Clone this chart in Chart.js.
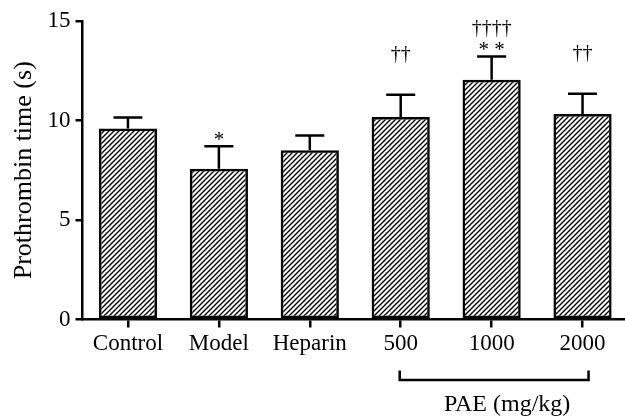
<!DOCTYPE html>
<html>
<head>
<meta charset="utf-8">
<script src="https://cdn.jsdelivr.net/npm/chart.js@4.4.0/dist/chart.umd.min.js"></script>
<style>
  html, body { margin: 0; padding: 0; background: #fff; overflow: hidden; }
  #wrap { width: 632px; height: 418px; position: relative; }
</style>
</head>
<body>
<div id="wrap"><canvas id="c"></canvas></div>
<script>
// ---- data ----
const categories = ['Control', 'Model', 'Heparin', '500', '1000', '2000'];
const meanValues = [9.6, 7.57, 8.5, 10.18, 12.05, 10.33];
const sdValues = [0.55, 1.13, 0.74, 1.12, 1.17, 1.01];
const starMarks = ['', '*', '', '', '**', ''];
const daggerMarks = ['', '', '', '††', '††††', '††'];
const yTicks = [0, 5, 10, 15];
const groupLabel = 'PAE (mg/kg)';
const groupFrom = '500';
const groupTo = '2000';
const yTitle = 'Prothrombin time (s)';

const FONT = '"Liberation Serif", "Times New Roman", serif';

function makeHatch() {
  const s = 5;
  const t = document.createElement('canvas');
  t.width = s; t.height = s;
  const g = t.getContext('2d');
  g.strokeStyle = '#000';
  g.lineWidth = 1.4;
  g.beginPath();
  g.moveTo(0, s); g.lineTo(s, 0);
  g.moveTo(-1, 1); g.lineTo(1, -1);
  g.moveTo(s - 1, s + 1); g.lineTo(s + 1, s - 1);
  g.stroke();
  return g.createPattern(t, 'repeat');
}

const extras = {
  id: 'extras',
  afterDatasetsDraw(chart) {
    const ctx = chart.ctx;
    const x = chart.scales.x, y = chart.scales.y;
    const meta = chart.getDatasetMeta(0);
    ctx.save();
    ctx.strokeStyle = '#000';
    ctx.fillStyle = '#000';
    ctx.lineWidth = 2.5;
    meta.data.forEach((bar, i) => {
      const cx = bar.x;
      const top = y.getPixelForValue(meanValues[i]);
      const et = y.getPixelForValue(meanValues[i] + sdValues[i]);
      ctx.beginPath();
      ctx.moveTo(cx, top);
      ctx.lineTo(cx, et);
      ctx.moveTo(cx - 14.5, et);
      ctx.lineTo(cx + 14.5, et);
      ctx.stroke();
      ctx.textAlign = 'center';
      ctx.textBaseline = 'middle';
      if (starMarks[i]) {
        ctx.font = '21px ' + FONT;
        const txt = starMarks[i].split('').join(' ');
        ctx.fillText(txt, cx, et - 6);
      }
      if (daggerMarks[i]) {
        ctx.font = '20px ' + FONT;
        const off = starMarks[i] ? 28 : 40;
        ctx.fillText(daggerMarks[i], cx, et - off);
      }
    });
    // bracket
    const xa = x.getPixelForValue(categories.indexOf(groupFrom)) - 1;
    const xb = x.getPixelForValue(categories.indexOf(groupTo)) + 6;
    const by = 380;
    ctx.lineWidth = 2.5;
    ctx.beginPath();
    ctx.moveTo(xa, by - 9.5);
    ctx.lineTo(xa, by);
    ctx.lineTo(xb, by);
    ctx.lineTo(xb, by - 9.5);
    ctx.stroke();
    ctx.font = '24px ' + FONT;
    ctx.textAlign = 'center';
    ctx.textBaseline = 'middle';
    ctx.fillText(groupLabel, (xa + xb) / 2 + 13, 405);
    ctx.restore();
  }
};

const ctx = document.getElementById('c').getContext('2d');
new Chart(ctx, {
  type: 'bar',
  data: {
    labels: categories,
    datasets: [{
      data: meanValues,
      backgroundColor: makeHatch(),
      borderColor: '#000',
      borderWidth: 2.5,
      borderSkipped: false,
      barPercentage: 0.64,
      categoryPercentage: 1.0
    }]
  },
  options: {
    responsive: true,
    maintainAspectRatio: false,
    animation: false,
    devicePixelRatio: 1,
    layout: { padding: { top: 21, right: 4, bottom: 0, left: 0 } },
    plugins: { legend: { display: false }, tooltip: { enabled: false } },
    scales: {
      x: {
        afterFit(s) { s.height = 98.5; },
        grid: { display: true, drawOnChartArea: false, drawTicks: true, offset: false, tickLength: 8, color: '#000', lineWidth: 2.5 },
        border: { display: true, color: '#000', width: 2.5 },
        ticks: { color: '#000', font: { family: FONT, size: 23 }, padding: 3, maxRotation: 0 }
      },
      y: {
        min: 0, max: 15,
        afterFit(s) { s.width = 82.5; },
        afterBuildTicks(s) { s.ticks = yTicks.map(v => ({ value: v })); },
        grid: { display: true, drawOnChartArea: false, drawTicks: true, tickLength: 7, color: '#000', lineWidth: 2.5 },
        border: { display: true, color: '#000', width: 2.5 },
        ticks: { color: '#000', font: { family: FONT, size: 23 }, padding: 5 },
        title: { display: true, text: yTitle, color: '#000', font: { family: FONT, size: 26 }, padding: { top: 9, bottom: 0 } }
      }
    }
  },
  plugins: [extras]
});
</script>
</body>
</html>
